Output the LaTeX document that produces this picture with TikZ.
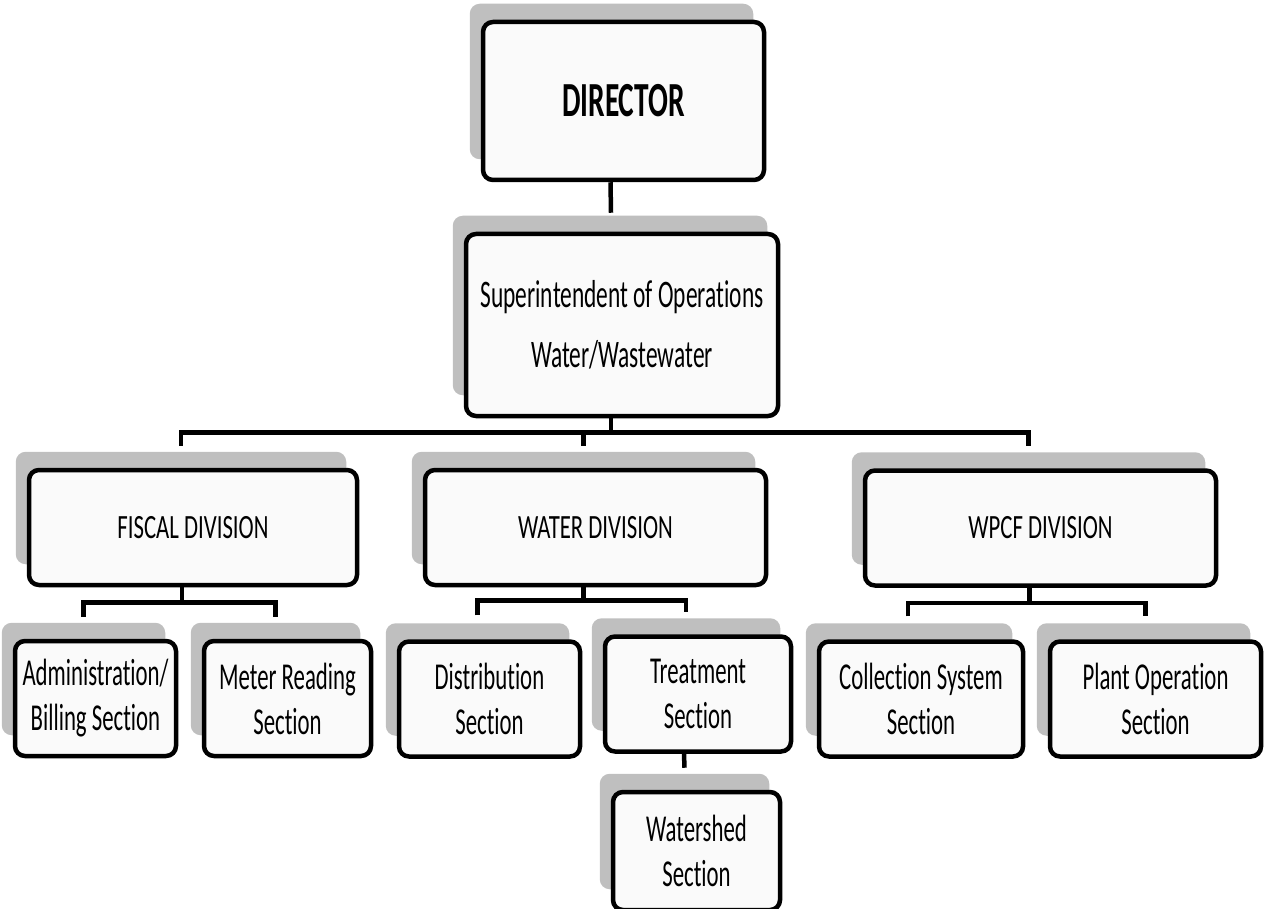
\documentclass[tikz,border=0pt]{standalone}
\usepackage{fontspec}
\setmainfont{Carlito}
\newfontfamily\narrowfont{Carlito}[FakeStretch=0.6, Ligatures=NoCommon]
\newfontfamily\divfont{Carlito}[FakeStretch=0.67, Ligatures=NoCommon]
\usetikzlibrary{backgrounds}
\definecolor{shadowgrey}{HTML}{BFBFBF}
\definecolor{paper}{HTML}{FAFAFA}

\tikzset{
  box/.style={draw=black, line width=4.5pt, fill=paper, rounded corners=10pt,
    align=center, inner sep=0pt},
  sect/.style={box, minimum height=115pt, font=\narrowfont\fontsize{38}{45}\selectfont},
  divn/.style={box, minimum height=115pt, font=\divfont\fontsize{34}{40}\selectfont},
  link/.style={line width=4.5pt},
}
% grey block behind a box
\newcommand{\shadowof}[1]{\fill[shadowgrey, rounded corners=10pt]
  ([xshift=-11pt,yshift=16pt]#1.north west) rectangle ([xshift=-13pt,yshift=23pt]#1.south east);}

\begin{document}
\begin{tikzpicture}[x=1pt,y=-1pt]
\useasboundingbox (0,0) rectangle (1264,909);

\node[box, minimum width=281pt, minimum height=158pt,
  font=\narrowfont\bfseries\fontsize{49}{55}\selectfont] (dir) at (623.5,101) {DIRECTOR};
\node[box, minimum width=312pt, minimum height=182pt,
  font=\narrowfont\fontsize{39}{60}\selectfont] (sup) at (622,325)
  {Superintendent of Operations\\Water/Wastewater};

\node[divn, minimum width=328pt] (fis) at (193,527.5) {FISCAL DIVISION};
\node[divn, minimum width=341pt] (wat) at (595.5,527.5) {WATER DIVISION};
\node[divn, minimum width=351pt] (wpc) at (1040.5,528) {WPCF DIVISION};

\node[sect, minimum width=161pt] (adm) at (95.5,698.5) {Administration/\\Billing Section};
\node[sect, minimum width=167pt] (met) at (287.5,698.5) {Meter Reading\\Section};
\node[sect, minimum width=181pt] (dis) at (489.5,699) {Distribution\\Section};
\node[sect, minimum width=186pt] (tre) at (698,694) {Treatment\\Section};
\node[sect, minimum width=167pt, minimum height=118pt] (wsh) at (696.5,851) {Watershed\\Section};
\node[sect, minimum width=204pt] (col) at (921,699) {Collection System\\Section};
\node[sect, minimum width=211pt] (pla) at (1155.5,699) {Plant Operation\\Section};

\begin{scope}[on background layer]
% connectors
\draw[link] ([xshift=-13pt]dir.south) -- ([xshift=-11pt,yshift=19pt]sup.north);

\coordinate (topbus) at ([xshift=-11pt,yshift=-14pt]sup.south);
\coordinate (watin) at ([xshift=-12pt,yshift=22pt]wat.north);
\draw[link] ([xshift=-11pt]sup.south) -- (topbus);
\draw[link] ([xshift=-12pt,yshift=22pt]fis.north) |- (topbus) -| ([xshift=-12pt,yshift=22pt]wpc.north);
\draw[link] (watin) -- (watin |- topbus);

\coordinate (fisbus) at ([xshift=-11pt,yshift=-15pt]fis.south);
\draw[link] ([xshift=-11pt]fis.south) -- (fisbus);
\draw[link] ([xshift=-12pt,yshift=22pt]adm.north) |- (fisbus) -| ([xshift=-12pt,yshift=22pt]met.north);

\coordinate (watbus) at ([xshift=-12pt,yshift=-13pt]wat.south);
\draw[link] ([xshift=-12pt]wat.south) -- (watbus);
\draw[link] ([xshift=-12pt,yshift=24pt]dis.north) |- (watbus) -| ([xshift=-12pt,yshift=22pt]tre.north);

\draw[link] ([xshift=-14pt]tre.south) -- ([xshift=-12pt,yshift=22pt]wsh.north);

\coordinate (wpcbus) at ([xshift=-11pt,yshift=-15pt]wpc.south);
\draw[link] ([xshift=-11pt]wpc.south) -- (wpcbus);
\draw[link] ([xshift=-13pt,yshift=23pt]col.north) |- (wpcbus) -| ([xshift=-10pt,yshift=23pt]pla.north);

% shadows
\foreach \n in {dir,sup,fis,wat,wpc,adm,met,dis,tre,wsh,col,pla}
  {\shadowof{\n}}
\end{scope}

\end{tikzpicture}
\end{document}
